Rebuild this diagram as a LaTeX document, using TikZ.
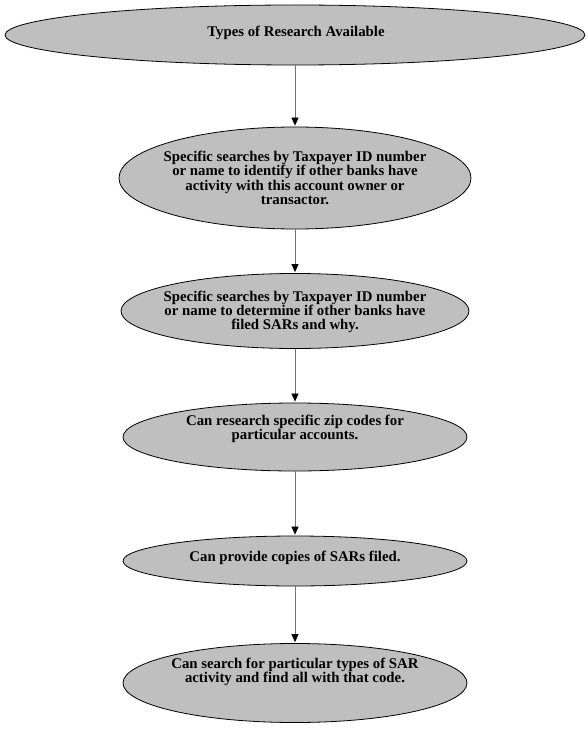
\documentclass[tikz,border=0pt]{standalone}
\usepackage{fontspec}
\setmainfont{Liberation Serif}
\usetikzlibrary{shapes.geometric,arrows.meta}
\begin{document}
\begin{tikzpicture}[x=1pt,y=-1pt,
  oval/.style={ellipse, draw=black, line width=0.8pt, fill=black!25, inner sep=0pt},
  caption/.style={font=\fontsize{14.8}{14.3}\selectfont\bfseries, align=center, inner sep=0pt},
  flow/.style={draw=black!55, line width=0.7pt, shorten >=1pt,
    -{Triangle[width=7pt,length=8pt,color=black]}}]
\useasboundingbox (0,0) rectangle (588,733);

% ovals
\node[oval, minimum width=580pt, minimum height=60pt] (e1) at (295,35) {};
\node[oval, minimum width=352pt, minimum height=102pt] (e2) at (295,178) {};
\node[oval, minimum width=348pt, minimum height=75pt] (e3) at (295,311) {};
\node[oval, minimum width=344pt, minimum height=68pt] (e4) at (295,437) {};
\node[oval, minimum width=344pt, minimum height=50pt] (e5) at (295,561) {};
\node[oval, minimum width=344pt, minimum height=79pt] (e6) at (295,683) {};

% texts
\node[caption] (t1) at (296,33) {Types of Research Available};
\node[caption] (t2) at (295,178) {Specific searches by Taxpayer ID number\\or name to identify if other banks have\\activity with this account owner or\\transactor.};
\node[caption] (t3) at (295,312) {Specific searches by Taxpayer ID number\\or name to determine if other banks have\\filed SARs and why.};
\node[caption] (t4) at (295,429) {Can research specific zip codes for\\particular accounts.};
\node[caption] (t5) at (295,558) {Can provide copies of SARs filed.};
\node[caption] (t6) at (295,672) {Can search for particular types of SAR\\activity and find all with that code.};

% connectors
\draw[flow] (e1.south) -- (e2.north);
\draw[flow] (e2.south) -- (e3.north);
\draw[flow] (e3.south) -- (e4.north);
\draw[flow] (e4.south) -- (e5.north);
\draw[flow] (e5.south) -- (e6.north);
\end{tikzpicture}
\end{document}
